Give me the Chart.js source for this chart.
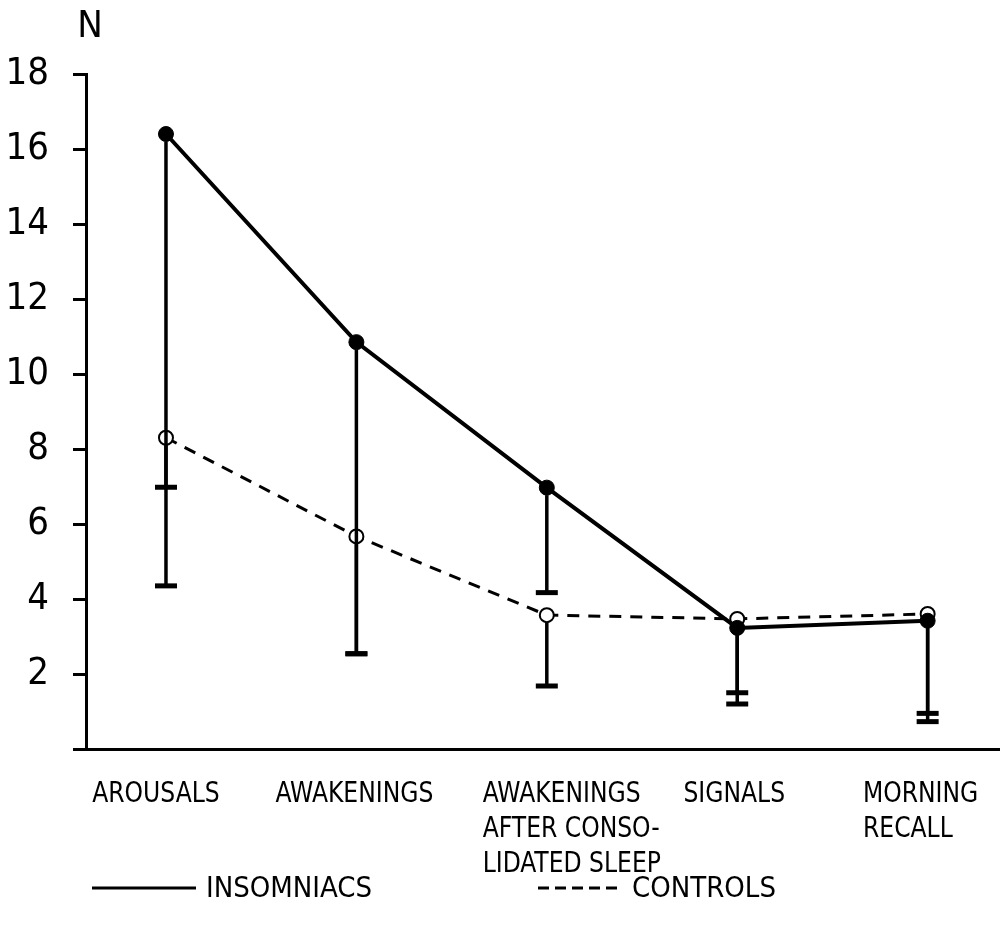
<!DOCTYPE html>
<html>
<head>
<meta charset="utf-8">
<script src="https://cdn.jsdelivr.net/npm/chart.js@4"></script>
<style>
  body { margin: 0; background: #fff; }
  #wrap { width: 1000px; height: 932px; }
</style>
</head>
<body>
<div id="wrap"><canvas id="chart" width="1000" height="932"></canvas></div>
<script>
// --- data ---
const categories = [
  ['AROUSALS'],
  ['AWAKENINGS'],
  ['AWAKENINGS', 'AFTER CONSO-', 'LIDATED SLEEP'],
  ['SIGNALS'],
  ['MORNING', 'RECALL'],
];
const insomniacs = [16.4, 10.85, 6.97, 3.23, 3.42];
const insomniacsLow = [4.35, 2.54, 4.17, 1.2, 0.73];
const controls = [8.3, 5.67, 3.57, 3.47, 3.6];
const controlsLow = [6.98, 2.54, 1.68, 1.5, 0.95];
const yTicks = [0, 2, 4, 6, 8, 10, 12, 14, 16, 18];
const yTitle = 'N';

const FONT = '"Liberation Sans Narrow", "DejaVu Sans Condensed", "Liberation Sans", sans-serif';
// horizontal nudge of each label block relative to its tick (layout only)
const labelShift = [-10, -2, 25, -3, -7];
const TEXT_SQUEEZE = 0.9;

const toPoints = (arr) => arr.map((v, i) => ({ x: i, y: v }));

// whiskers (lower only), drawn from the edge of each marker down to the low value
const errorBars = {
  id: 'errorBars',
  afterDatasetsDraw(chart) {
    const ctx = chart.ctx;
    const yScale = chart.scales.y;
    chart.data.datasets.forEach((ds, di) => {
      const meta = chart.getDatasetMeta(di);
      meta.data.forEach((pt, i) => {
        const yLow = yScale.getPixelForValue(ds.low[i]);
        ctx.save();
        ctx.strokeStyle = '#000';
        ctx.lineWidth = 3.5;
        ctx.beginPath();
        ctx.moveTo(pt.x, pt.y + ds.pointRadius);
        ctx.lineTo(pt.x, yLow);
        ctx.stroke();
        ctx.lineWidth = 5;
        ctx.beginPath();
        ctx.moveTo(pt.x - 11, yLow);
        ctx.lineTo(pt.x + 11, yLow);
        ctx.stroke();
        ctx.restore();
      });
    });
  },
};

// squeezed text, like the narrow lettering of the original
function squeezedText(ctx, text, x, y, k) {
  ctx.save();
  ctx.translate(x, y);
  ctx.scale(k, 1);
  ctx.fillText(text, 0, 0);
  ctx.restore();
}

// category labels, the "N" title and the legend
const textLayer = {
  id: 'textLayer',
  afterDraw(chart) {
    const ctx = chart.ctx;
    const xScale = chart.scales.x;
    const area = chart.chartArea;
    ctx.save();
    ctx.fillStyle = '#000';
    ctx.textBaseline = 'middle';

    // N above the y axis
    ctx.font = '38px ' + FONT;
    ctx.textAlign = 'center';
    ctx.fillText(yTitle, area.left + 4, 27);

    // category labels: block centred near the tick, lines left aligned
    ctx.font = '29px ' + FONT;
    ctx.textAlign = 'left';
    categories.forEach((lines, i) => {
      const cx = xScale.getPixelForValue(i) + labelShift[i];
      const w = Math.max(...lines.map((l) => ctx.measureText(l).width)) * TEXT_SQUEEZE;
      lines.forEach((l, k) => {
        squeezedText(ctx, l, cx - w / 2, 794 + k * 35, TEXT_SQUEEZE);
      });
    });

    // legend
    const legendPos = [
      { x0: 92, x1: 196 },
      { x0: 538, x1: 622 },
    ];
    chart.data.datasets.forEach((ds, di) => {
      const p = legendPos[di];
      ctx.strokeStyle = '#000';
      ctx.lineWidth = 3;
      ctx.setLineDash(ds.borderDash ? [11, 6] : []);
      ctx.beginPath();
      ctx.moveTo(p.x0, 888);
      ctx.lineTo(p.x1, 888);
      ctx.stroke();
      ctx.setLineDash([]);
      squeezedText(ctx, ds.label, p.x1 + 10, 889, 1);
    });
    ctx.restore();
  },
};

const chart = new Chart(document.getElementById('chart'), {
  type: 'line',
  data: {
    datasets: [
      {
        label: 'INSOMNIACS',
        data: toPoints(insomniacs),
        low: insomniacsLow,
        borderColor: '#000',
        borderWidth: 4,
        pointRadius: 7.5,
        pointBackgroundColor: '#000',
        pointBorderColor: '#000',
        pointBorderWidth: 1,
        tension: 0,
      },
      {
        label: 'CONTROLS',
        data: toPoints(controls),
        low: controlsLow,
        borderColor: '#000',
        borderWidth: 3,
        borderDash: [12, 9],
        pointRadius: 7,
        pointBackgroundColor: '#fff',
        pointBorderColor: '#000',
        pointBorderWidth: 2,
        tension: 0,
      },
    ],
  },
  options: {
    responsive: false,
    animation: false,
    layout: { autoPadding: false, padding: { top: 74, left: 0, right: 0, bottom: 0 } },
    plugins: {
      legend: { display: false },
      tooltip: { enabled: false },
    },
    scales: {
      x: {
        type: 'linear',
        min: -0.42,
        max: 4.38,
        grid: { display: false },
        ticks: { display: false },
        border: { color: '#000', width: 3 },
        afterFit: (s) => { s.height = 183; },
      },
      y: {
        min: 0,
        max: 18,
        afterBuildTicks: (s) => { s.ticks = yTicks.map((v) => ({ value: v })); },
        ticks: {
          color: '#000',
          padding: 24,
          font: { size: 38, family: FONT },
          callback: (v) => (v === 0 ? '' : v),
        },
        grid: {
          drawOnChartArea: false,
          drawTicks: true,
          tickLength: 13,
          tickWidth: 3,
          tickColor: '#000',
        },
        border: { color: '#000', width: 3 },
        afterFit: (s) => { s.width = 86; },
      },
    },
  },
  plugins: [errorBars, textLayer],
});
</script>
</body>
</html>
